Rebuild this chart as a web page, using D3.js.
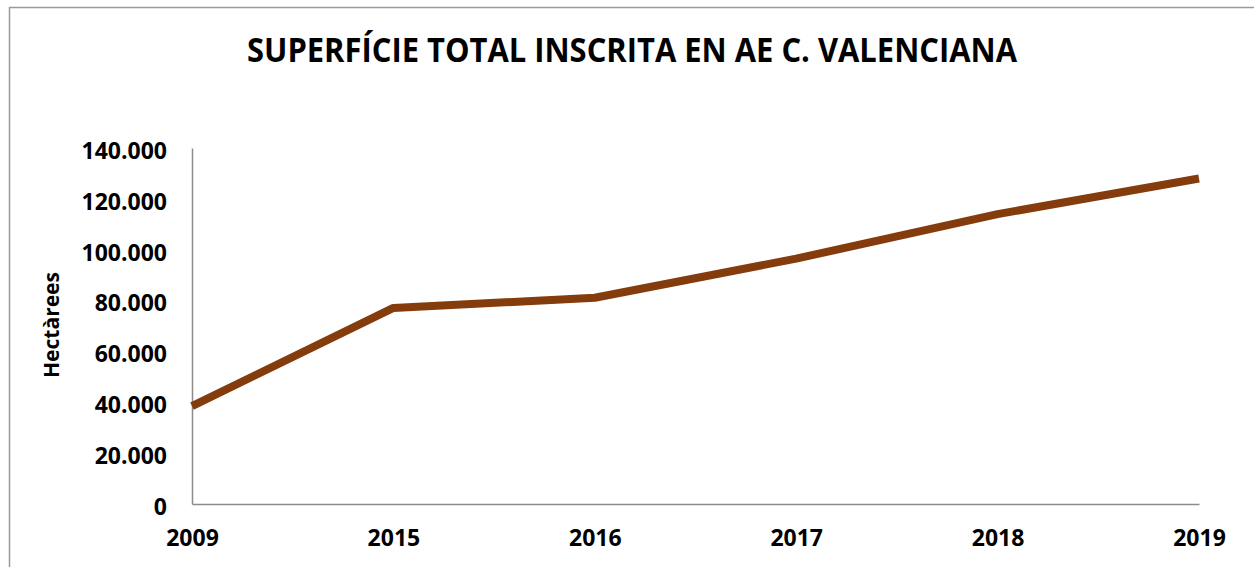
<!DOCTYPE html>
<html>
<head>
<meta charset="utf-8">
<script src="https://cdn.jsdelivr.net/npm/d3@7"></script>
<style>
  body { margin: 0; background: #fff; }
  text { font-family: "Open Sans", sans-serif; font-weight: bold; fill: #000; }
</style>
</head>
<body>
<div id="chart-area"></div>
<script>
const years = ["2009", "2015", "2016", "2017", "2018", "2019"];
const hectares = [38500, 77100, 81100, 96500, 114000, 128000];
const yTicks = [0, 20000, 40000, 60000, 80000, 100000, 120000, 140000];

const width = 1254;
const height = 567;
const margin = { top: 148, right: 55, bottom: 63, left: 192 };

const svg = d3
  .select("#chart-area")
  .append("svg")
  .attr("width", width)
  .attr("height", height);

// outer chart border (runs past the right/bottom edge)
svg
  .append("rect")
  .attr("x", 9.5)
  .attr("y", 7.5)
  .attr("width", 1300)
  .attr("height", 600)
  .attr("fill", "none")
  .attr("stroke", "#9a9a9a")
  .attr("stroke-width", 1.5);

const x = d3
  .scalePoint()
  .domain(years)
  .range([margin.left, width - margin.right]);

const y = d3
  .scaleLinear()
  .domain([0, 140000])
  .range([height - margin.bottom, margin.top]);

const fmt = (d) => d3.format(",")(d).replace(/,/g, ".");

// y axis
const yAxis = svg
  .append("g")
  .attr("transform", `translate(${margin.left},0)`)
  .call(d3.axisLeft(y).tickValues(yTicks).tickSize(0).tickPadding(25).tickFormat(fmt));
yAxis.select(".domain").attr("stroke", "#8c8c8c").attr("stroke-width", 1.5);
yAxis
  .selectAll("text")
  .attr("font-size", 23)
  .attr("font-family", "Open Sans")
  .attr("font-weight", "bold")
  .attr("dy", "0.45em");

// x axis
const xAxis = svg
  .append("g")
  .attr("transform", `translate(0,${height - margin.bottom})`)
  .call(d3.axisBottom(x).tickSize(0).tickPadding(26));
xAxis.select(".domain").attr("stroke", "#8c8c8c").attr("stroke-width", 1.5);
xAxis
  .selectAll("text")
  .attr("font-size", 23)
  .attr("font-family", "Open Sans")
  .attr("font-weight", "bold");

// line
const line = d3
  .line()
  .x((d, i) => x(years[i]))
  .y((d) => y(d));

svg
  .append("path")
  .datum(hectares)
  .attr("d", line)
  .attr("fill", "none")
  .attr("stroke", "#843c0c")
  .attr("stroke-width", 8)
  .attr("stroke-linejoin", "round");

// title
svg
  .append("text")
  .attr("x", 632)
  .attr("y", 62)
  .attr("text-anchor", "middle")
  .attr("font-size", 34)
  .attr("textLength", 770)
  .attr("lengthAdjust", "spacingAndGlyphs")
  .text("SUPERFÍCIE TOTAL INSCRITA EN AE C. VALENCIANA");

// y label
svg
  .append("text")
  .attr("transform", "translate(59,325) rotate(-90)")
  .attr("text-anchor", "middle")
  .attr("font-size", 22)
  .attr("textLength", 106)
  .attr("lengthAdjust", "spacingAndGlyphs")
  .text("Hectàrees");
</script>
</body>
</html>
